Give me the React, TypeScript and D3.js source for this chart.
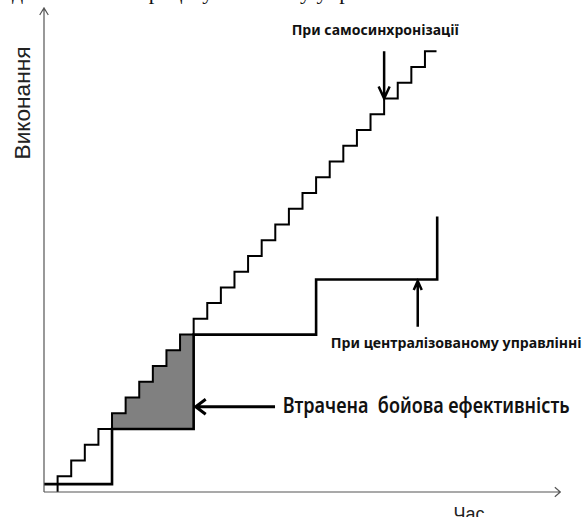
import * as d3 from 'd3';

const W = 587;
const H = 517;

// time and performance, both in "step" units
const selfSyncTime = [1, 1, 2, 3, 4, 5, 6, 7, 8, 9, 10, 11, 12, 13, 14, 15, 16, 17, 18, 19, 20, 21, 22, 23, 24, 25, 26, 27, 28, 28.85];
const selfSyncLevel = [0, 1, 2, 3, 4, 5, 6, 7, 8, 9, 10, 11, 12, 13, 14, 15, 16, 17, 18, 19, 20, 21, 22, 23, 24, 25, 26, 27, 28, 28];

const centralTime = [0, 5, 11, 20, 28.9];
const centralLevel = [0.5, 4, 10, 13.5, 17.5];

// annotation arrows: [t, from level, to level] / [from t, to t, level]
const selfSyncArrow = [25, 28, 25];
const centralArrow = [27.47, 10.5, 13.4];
const lossArrow = [16.98, 11.15, 5.42];

const selfSyncLabel = 'При самосинхронізації';
const centralLabel = 'При централізованому управлінні';
const lossLabel = 'Втрачена  бойова ефективність';
const yLabel = 'Виконання';
const xLabel = 'Час';

const x = d3.scaleLinear().domain([0, 38]).range([44, 561]);
const y = d3.scaleLinear().domain([0, 30.75]).range([492, 8]);

const stepLine = d3.line<[number, number]>()
  .x(d => x(d[0]))
  .y(d => y(d[1]))
  .curve(d3.curveStepAfter);

function arrowPath(x1: number, y1: number, x2: number, y2: number, len: number, half: number) {
  const a = Math.atan2(y2 - y1, x2 - x1);
  const bx = x2 - len * Math.cos(a), by = y2 - len * Math.sin(a);
  const px = -Math.sin(a) * half, py = Math.cos(a) * half;
  return `M${x1},${y1}L${x2},${y2}M${bx + px},${by + py}L${x2},${y2}L${bx - px},${by - py}`;
}

export default function App() {
  const selfSync: [number, number][] = selfSyncTime.map((t, i) => [t, selfSyncLevel[i]]);
  const central: [number, number][] = centralTime.map((t, i) => [t, centralLevel[i]]);

  const gapStart = centralTime[1], gapEnd = centralTime[2], base = centralLevel[1];
  const lossPts: [number, number][] = selfSync.filter(([t, v]) => t >= gapStart && t < gapEnd && v > base);
  lossPts.push([gapEnd, lossPts[lossPts.length - 1][1]]);
  const lossArea = d3.area<[number, number]>()
    .x(d => x(d[0]))
    .y0(() => y(base))
    .y1(d => y(d[1]))
    .curve(d3.curveStepAfter)(lossPts);

  const x0 = x(0), y0 = y(0);

  return (
    <div style={{ position: 'absolute', left: 0, top: 0 }}>
      <svg width={W} height={H} style={{ display: 'block', background: '#fff' }}>
        {/* clipped caption from the page above */}
        <text y={-1} fontFamily="Liberation Serif" fontSize={22} fill="#111">
          <tspan x={-10}>Під</tspan>
          <tspan x={137}>процесу</tspan>
          <tspan x={300}>у управлінні</tspan>
        </text>

        <path d={lossArea || undefined} fill="#808080" stroke="none" />

        <path d={stepLine(selfSync) || undefined} fill="none" stroke="#000" strokeWidth={2} />
        <path d={stepLine(central) || undefined} fill="none" stroke="#000" strokeWidth={2.6} />

        {/* axes */}
        <path d={arrowPath(x0, y0, x0, y(30.75), 7, 4.3)} fill="none" stroke="#555" strokeWidth={1.2} />
        <path d={arrowPath(x0, y0, x(37.95), y0, 5.5, 4.7)} fill="none" stroke="#555" strokeWidth={1.2} />

        {/* annotation arrows */}
        <path
          d={arrowPath(x(selfSyncArrow[0]), y(selfSyncArrow[1]), x(selfSyncArrow[0]), y(selfSyncArrow[2]), 12, 5.5)}
          fill="none" stroke="#000" strokeWidth={2.5}
        />
        <path
          d={arrowPath(x(centralArrow[0]), y(centralArrow[1]), x(centralArrow[0]), y(centralArrow[2]), 9, 4)}
          fill="none" stroke="#000" strokeWidth={2.5}
        />
        <path
          d={arrowPath(x(lossArrow[0]), y(lossArrow[2]), x(lossArrow[1]), y(lossArrow[2]), 10, 7.5)}
          fill="none" stroke="#000" strokeWidth={3}
        />

        {/* labels */}
        <text x={291.7} y={35} fontFamily="Noto Sans" fontWeight="bold" fontSize={14} fill="#111"
          textLength={167} lengthAdjust="spacingAndGlyphs">{selfSyncLabel}</text>
        <text x={330.7} y={348.3} fontFamily="Noto Sans" fontWeight="bold" fontSize={15} fill="#111"
          textLength={251} lengthAdjust="spacingAndGlyphs">{centralLabel}</text>
        <text x={282.7} y={412.8} fontFamily="Noto Sans" fontWeight={600} fontSize={22} fill="#111"
          textLength={287} lengthAdjust="spacingAndGlyphs" style={{ whiteSpace: 'pre' }}>{lossLabel}</text>

        <text transform="translate(30,103) rotate(-90)" textAnchor="middle" fontFamily="Liberation Sans"
          fontSize={22} fill="#222" textLength={113} lengthAdjust="spacingAndGlyphs">{yLabel}</text>
        <text x={469} y={520} textAnchor="middle" fontFamily="Liberation Sans" fontSize={18} fill="#222">{xLabel}</text>
      </svg>
    </div>
  );
}
